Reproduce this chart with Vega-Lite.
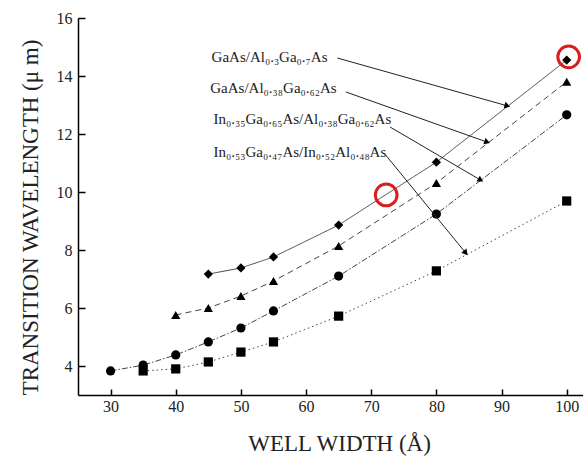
{
  "$schema": "https://vega.github.io/schema/vega-lite/v6.json",
  "width": 505,
  "height": 377,
  "autosize": "none",
  "padding": {"left": 78, "top": 18, "right": 0, "bottom": 66},
  "background": "white",
  "config": {
    "view": {"stroke": null},
    "font": "Liberation Serif"
  },
  "datasets": {
    "pts": [
      {"width": 45, "wl": 7.17, "series": "GaAs/Al0.3Ga0.7As"},
      {"width": 50, "wl": 7.38, "series": "GaAs/Al0.3Ga0.7As"},
      {"width": 55, "wl": 7.76, "series": "GaAs/Al0.3Ga0.7As"},
      {"width": 65, "wl": 8.86, "series": "GaAs/Al0.3Ga0.7As"},
      {"width": 80, "wl": 11.03, "series": "GaAs/Al0.3Ga0.7As"},
      {"width": 100, "wl": 14.55, "series": "GaAs/Al0.3Ga0.7As"},
      {"width": 40, "wl": 5.76, "series": "GaAs/Al0.38Ga0.62As"},
      {"width": 45, "wl": 6.0, "series": "GaAs/Al0.38Ga0.62As"},
      {"width": 50, "wl": 6.41, "series": "GaAs/Al0.38Ga0.62As"},
      {"width": 55, "wl": 6.93, "series": "GaAs/Al0.38Ga0.62As"},
      {"width": 65, "wl": 8.14, "series": "GaAs/Al0.38Ga0.62As"},
      {"width": 80, "wl": 10.31, "series": "GaAs/Al0.38Ga0.62As"},
      {"width": 100, "wl": 13.8, "series": "GaAs/Al0.38Ga0.62As"},
      {"width": 30, "wl": 3.83, "series": "In0.35Ga0.65As/Al0.38Ga0.62As"},
      {"width": 35, "wl": 4.03, "series": "In0.35Ga0.65As/Al0.38Ga0.62As"},
      {"width": 40, "wl": 4.38, "series": "In0.35Ga0.65As/Al0.38Ga0.62As"},
      {"width": 45, "wl": 4.83, "series": "In0.35Ga0.65As/Al0.38Ga0.62As"},
      {"width": 50, "wl": 5.31, "series": "In0.35Ga0.65As/Al0.38Ga0.62As"},
      {"width": 55, "wl": 5.9, "series": "In0.35Ga0.65As/Al0.38Ga0.62As"},
      {"width": 65, "wl": 7.1, "series": "In0.35Ga0.65As/Al0.38Ga0.62As"},
      {"width": 80, "wl": 9.24, "series": "In0.35Ga0.65As/Al0.38Ga0.62As"},
      {"width": 100, "wl": 12.66, "series": "In0.35Ga0.65As/Al0.38Ga0.62As"},
      {"width": 35, "wl": 3.83, "series": "In0.53Ga0.47As/In0.52Al0.48As"},
      {"width": 40, "wl": 3.9, "series": "In0.53Ga0.47As/In0.52Al0.48As"},
      {"width": 45, "wl": 4.14, "series": "In0.53Ga0.47As/In0.52Al0.48As"},
      {"width": 50, "wl": 4.48, "series": "In0.53Ga0.47As/In0.52Al0.48As"},
      {"width": 55, "wl": 4.83, "series": "In0.53Ga0.47As/In0.52Al0.48As"},
      {"width": 65, "wl": 5.72, "series": "In0.53Ga0.47As/In0.52Al0.48As"},
      {"width": 80, "wl": 7.28, "series": "In0.53Ga0.47As/In0.52Al0.48As"},
      {"width": 100, "wl": 9.69, "series": "In0.53Ga0.47As/In0.52Al0.48As"}
    ],
    "notes": [
      {"id": 1, "label": "GaAs/Al₀.₃Ga₀.₇As", "lx": 45.5, "ly": 14.66, "x1": 64.8, "y1": 14.62, "x2": 90.9, "y2": 12.97},
      {"id": 2, "label": "GaAs/Al₀.₃₈Ga₀.₆₂As", "lx": 45.3, "ly": 13.59, "x1": 66.1, "y1": 13.45, "x2": 87.8, "y2": 11.72},
      {"id": 3, "label": "In₀.₃₅Ga₀.₆₅As/Al₀.₃₈Ga₀.₆₂As", "lx": 45.8, "ly": 12.52, "x1": 72.9, "y1": 12.24, "x2": 86.8, "y2": 10.41},
      {"id": 4, "label": "In₀.₅₃Ga₀.₄₇As/In₀.₅₂Al₀.₄₈As", "lx": 45.8, "ly": 11.38, "x1": 72.2, "y1": 11.28, "x2": 84.5, "y2": 7.9}
    ],
    "marks": [
      {"x": 72.3, "y": 9.9},
      {"x": 100.3, "y": 14.66}
    ]
  },
  "layer": [
    {
      "data": {"name": "pts"},
      "mark": {"type": "line", "color": "#444444", "strokeWidth": 1},
      "encoding": {
        "x": {
          "field": "width", "type": "quantitative",
          "scale": {"domain": [25, 102.5], "nice": false, "zero": false},
          "axis": {
            "title": "WELL WIDTH (Å)",
            "values": [30, 35, 40, 45, 50, 55, 60, 65, 70, 75, 80, 85, 90, 95, 100],
            "labelExpr": "datum.value % 10 == 0 ? datum.label : ''",
            "tickSize": {"condition": {"test": "datum.value % 10 == 0", "value": -6}, "value": -4},
            "tickColor": "black", "tickWidth": 1.5,
            "domainColor": "black", "domainWidth": 1.5,
            "grid": false,
            "labelFont": "Liberation Serif", "labelFontSize": 16, "labelColor": "#222222",
            "labelPadding": 9,
            "titleFont": "Liberation Serif", "titleFontSize": 23, "titleFontWeight": "normal", "titleColor": "#222222",
            "titleX": 261, "titleY": 48, "titleBaseline": "middle", "titleAlign": "center"
          }
        },
        "y": {
          "field": "wl", "type": "quantitative",
          "scale": {"domain": [3, 16], "nice": false, "zero": false},
          "axis": {
            "title": "TRANSITION WAVELENGTH (μ m)",
            "values": [4, 5, 6, 7, 8, 9, 10, 11, 12, 13, 14, 15, 16],
            "labelExpr": "datum.value % 2 == 0 ? datum.label : ''",
            "tickSize": {"condition": {"test": "datum.value % 2 == 0", "value": -7}, "value": -4},
            "tickColor": "black", "tickWidth": 1.5,
            "domainColor": "black", "domainWidth": 1.5,
            "grid": false,
            "labelFont": "Liberation Serif", "labelFontSize": 16, "labelColor": "#222222",
            "labelPadding": 13,
            "titleFont": "Liberation Serif", "titleFontSize": 23, "titleFontWeight": "normal", "titleColor": "#222222",
            "titleX": -48, "titleY": 199, "titleBaseline": "middle", "titleAlign": "center", "titleAngle": -90
          }
        },
        "detail": {"field": "series"},
        "strokeDash": {
          "field": "series", "type": "nominal",
          "scale": {
            "domain": ["GaAs/Al0.3Ga0.7As", "GaAs/Al0.38Ga0.62As", "In0.35Ga0.65As/Al0.38Ga0.62As", "In0.53Ga0.47As/In0.52Al0.48As"],
            "range": [[1, 0], [6, 4], [6, 2, 1.5, 2], [1.5, 3]]
          },
          "legend": null
        }
      }
    },
    {
      "data": {"name": "pts"},
      "mark": {"type": "point", "filled": true, "color": "black", "opacity": 1, "size": 85},
      "encoding": {
        "x": {"field": "width", "type": "quantitative"},
        "y": {"field": "wl", "type": "quantitative"},
        "shape": {
          "field": "series", "type": "nominal",
          "scale": {
            "domain": ["GaAs/Al0.3Ga0.7As", "GaAs/Al0.38Ga0.62As", "In0.35Ga0.65As/Al0.38Ga0.62As", "In0.53Ga0.47As/In0.52Al0.48As"],
            "range": ["diamond", "triangle-up", "circle", "square"]
          },
          "legend": null
        }
      }
    },
    {
      "data": {"name": "notes"},
      "mark": {"type": "rule", "color": "#222222", "strokeWidth": 1},
      "encoding": {
        "x": {"field": "x1", "type": "quantitative"},
        "y": {"field": "y1", "type": "quantitative"},
        "x2": {"field": "x2"},
        "y2": {"field": "y2"}
      }
    },
    {
      "data": {"name": "notes"},
      "transform": [{"filter": "datum.id == 1"}],
      "mark": {"type": "point", "shape": "triangle-right", "filled": true, "color": "black", "opacity": 1, "size": 45, "angle": 16},
      "encoding": {"x": {"field": "x2", "type": "quantitative"}, "y": {"field": "y2", "type": "quantitative"}}
    },
    {
      "data": {"name": "notes"},
      "transform": [{"filter": "datum.id == 2"}],
      "mark": {"type": "point", "shape": "triangle-right", "filled": true, "color": "black", "opacity": 1, "size": 45, "angle": 19},
      "encoding": {"x": {"field": "x2", "type": "quantitative"}, "y": {"field": "y2", "type": "quantitative"}}
    },
    {
      "data": {"name": "notes"},
      "transform": [{"filter": "datum.id == 3"}],
      "mark": {"type": "point", "shape": "triangle-right", "filled": true, "color": "black", "opacity": 1, "size": 45, "angle": 30},
      "encoding": {"x": {"field": "x2", "type": "quantitative"}, "y": {"field": "y2", "type": "quantitative"}}
    },
    {
      "data": {"name": "notes"},
      "transform": [{"filter": "datum.id == 4"}],
      "mark": {"type": "point", "shape": "triangle-right", "filled": true, "color": "black", "opacity": 1, "size": 45, "angle": 51},
      "encoding": {"x": {"field": "x2", "type": "quantitative"}, "y": {"field": "y2", "type": "quantitative"}}
    },
    {
      "data": {"name": "notes"},
      "mark": {"type": "text", "align": "left", "baseline": "middle", "font": "Liberation Serif", "fontSize": 15, "color": "#222222"},
      "encoding": {
        "x": {"field": "lx", "type": "quantitative"},
        "y": {"field": "ly", "type": "quantitative"},
        "text": {"field": "label"}
      }
    },
    {
      "data": {"name": "marks"},
      "mark": {"type": "point", "filled": false, "shape": "circle", "color": "#d81e1e", "strokeWidth": 3, "size": 470, "opacity": 1},
      "encoding": {
        "x": {"field": "x", "type": "quantitative"},
        "y": {"field": "y", "type": "quantitative"}
      }
    }
  ]
}
